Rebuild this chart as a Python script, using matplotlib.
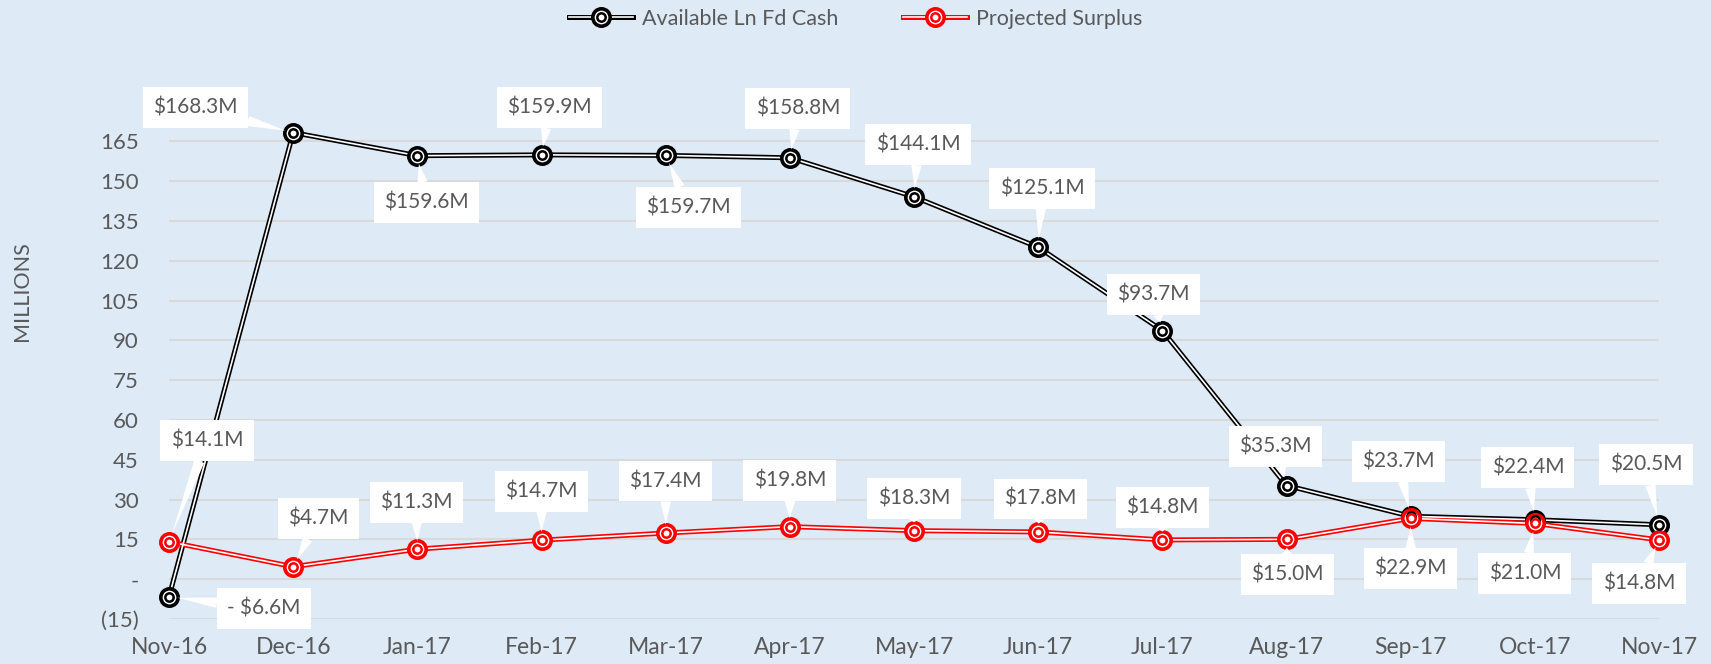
import matplotlib.pyplot as plt
from matplotlib.legend_handler import HandlerTuple

months = ['Nov-16', 'Dec-16', 'Jan-17', 'Feb-17', 'Mar-17', 'Apr-17', 'May-17',
          'Jun-17', 'Jul-17', 'Aug-17', 'Sep-17', 'Oct-17', 'Nov-17']
cash = [-6.6, 168.3, 159.6, 159.9, 159.7, 158.8, 144.1, 125.1, 93.7, 35.3, 23.7, 22.4, 20.5]
surplus = [14.1, 4.7, 11.3, 14.7, 17.4, 19.8, 18.3, 17.8, 14.8, 15.0, 22.9, 21.0, 14.8]
cash_labels = ['- $6.6M', '$168.3M', '$159.6M', '$159.9M', '$159.7M', '$158.8M', '$144.1M',
               '$125.1M', '$93.7M', '$35.3M', '$23.7M', '$22.4M', '$20.5M']
surplus_labels = ['$14.1M', '$4.7M', '$11.3M', '$14.7M', '$17.4M', '$19.8M', '$18.3M',
                  '$17.8M', '$14.8M', '$15.0M', '$22.9M', '$21.0M', '$14.8M']
yticks = [-15, 0, 15, 30, 45, 60, 75, 90, 105, 120, 135, 150, 165]
ytick_labels = ['(15)', '-', '15', '30', '45', '60', '75', '90', '105', '120', '135', '150', '165']

# label offsets in pixels (dx, dy)
cash_off = [(95, -12), (-98, 25), (9, -47), (8, 47), (23, -52), (8, 49), (4, 52),
            (4, 59), (-9, 36), (-11, 39), (-12, 55), (-7, 52), (-13, 60)]
surplus_off = [(38, 101), (25, 48), (-1, 47), (0, 49), (0, 52), (0, 46), (0, 32),
               (2, 33), (0, 32), (1, -35), (0, -50), (-10, -50), (-20, -44)]

bg = '#DEEAF6'
txt = '#595959'
plt.rcParams['font.family'] = ['Lato', 'DejaVu Sans']

fig = plt.figure(figsize=(17.11, 6.64), dpi=100, facecolor=bg)
ax = fig.add_axes([0.0988, 0.0678, 0.8708, 0.7633], facecolor=bg)

x = list(range(len(months)))


def double_line(y, color):
    l1, = ax.plot(x, y, color=color, lw=3.6, solid_joinstyle='miter', zorder=3, clip_on=False)
    l2, = ax.plot(x, y, color='white', lw=1.2, zorder=4, clip_on=False)
    l3, = ax.plot(x, y, ls='none', marker='o', ms=12.5, mfc='white', mec=color, mew=2.6,
                  zorder=5, clip_on=False)
    l4, = ax.plot(x, y, ls='none', marker='o', ms=6, mfc='white', mec=color, mew=1.8,
                  zorder=6, clip_on=False)
    return (l1, l2, l3, l4)


h_cash = double_line(cash, 'black')
h_sur = double_line(surplus, '#FF0000')


def add_labels(vals, labels, offs):
    for xi, v, lab, (dx, dy) in zip(x, vals, labels, offs):
        ax.annotate(lab, (xi, v), xytext=(dx, dy), textcoords='offset pixels',
                    ha='center', va='center', fontsize=15, color=txt, zorder=8,
                    annotation_clip=False,
                    bbox=dict(boxstyle='square,pad=0.5', fc='white', ec='none'),
                    arrowprops=dict(arrowstyle='wedge,tail_width=0.5,shrink_factor=0.5',
                                    fc='white', ec='none', shrinkA=0, shrinkB=6))


add_labels(cash, cash_labels, cash_off)
add_labels(surplus, surplus_labels, surplus_off)

ax.set_xlim(0, 12)
ax.set_ylim(-15, 176)
ax.set_xticks(x)
ax.set_xticklabels(months)
ax.set_yticks(yticks)
ax.set_yticklabels(ytick_labels)
ax.tick_params(length=0, labelsize=16, colors=txt)
ax.tick_params(axis='x', labelsize=16.5, pad=13)
ax.tick_params(axis='y', pad=22)
ax.grid(axis='y', color='#D9D9D9', lw=1.5, zorder=0)
ax.set_axisbelow(True)
for s in ax.spines.values():
    s.set_visible(False)

fig.text(22 / 1711, 1 - 291 / 664, 'MILLIONS', rotation=90, ha='center', va='center',
         fontsize=15.5, color=txt)

fig.legend([h_cash, h_sur], ['Available Ln Fd Cash', 'Projected Surplus'],
           handler_map={tuple: HandlerTuple(ndivide=1)}, loc='center',
           bbox_to_anchor=(0.5, 0.972), ncol=2, frameon=False, fontsize=15.5,
           labelcolor=txt, handlelength=3.0, handletextpad=0.4, columnspacing=3)

fig.savefig('out.png', dpi=100, facecolor=bg)
